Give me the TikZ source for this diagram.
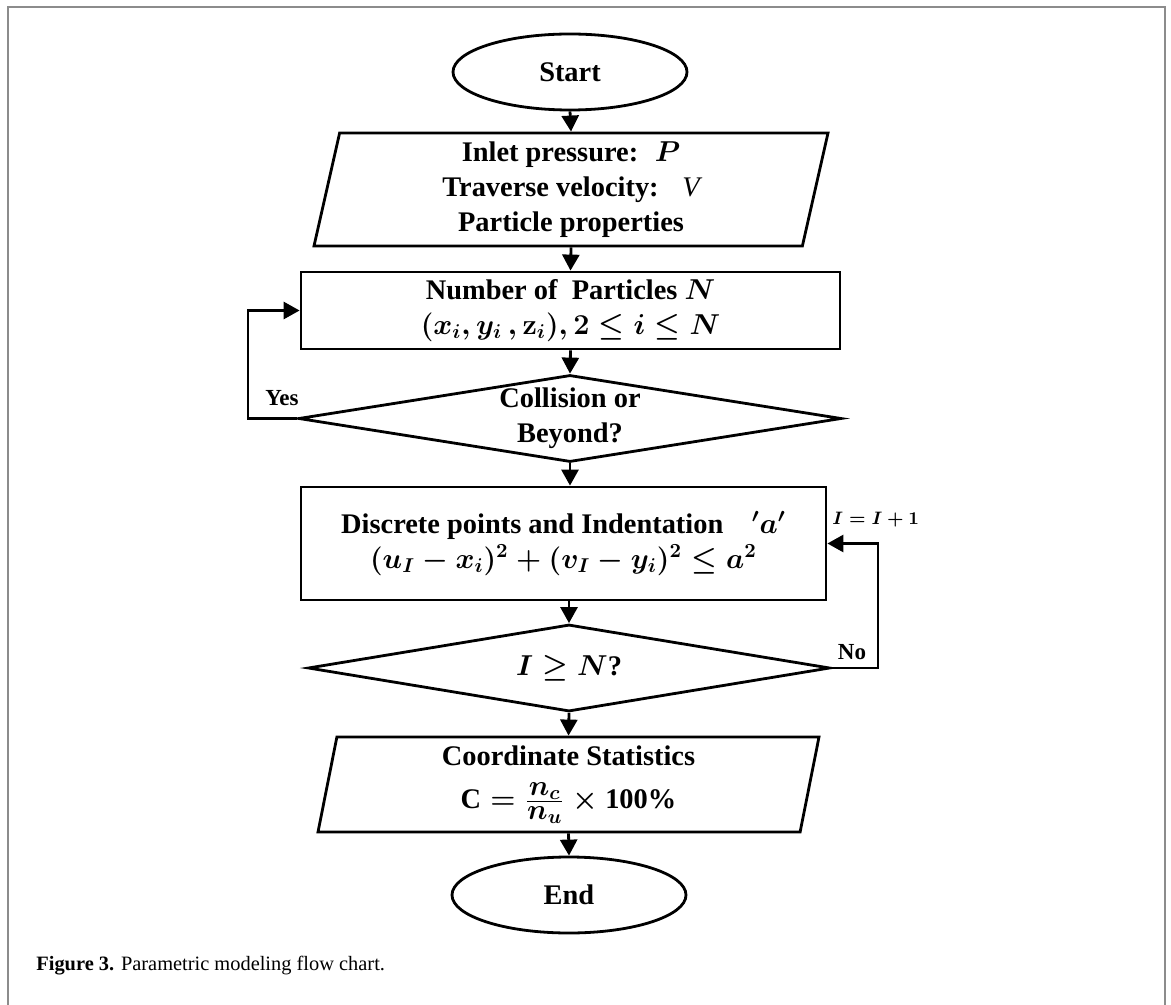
\documentclass[tikz,border=0pt]{standalone}
\usepackage[no-math]{fontspec}
\setmainfont{Liberation Serif}
\usepackage{amsmath,amssymb}
\usetikzlibrary{shapes.geometric,arrows.meta}

\begin{document}
\begin{tikzpicture}[x=0.5pt,y=-0.5pt,
		chartfont/.style={font=\fontsize{14.2}{17.5}\selectfont\bfseries\boldmath},
		terminal/.style={draw,ellipse,line width=1.4pt,minimum width=117pt,minimum height=38pt,chartfont},
		io/.style={draw,trapezium,trapezium stretches body=true,line width=1.4pt,inner sep=1pt,align=center,chartfont},
		process/.style={draw,rectangle,line width=1.4pt,inner sep=1pt,align=center,chartfont},
		decision/.style={draw,diamond,line width=1.4pt,inner sep=0pt,align=center,chartfont},
		flow/.style={line width=1.4pt,-{Triangle[length=8pt,width=8.5pt]}},
		tag/.style={font=\fontsize{11.5}{13}\selectfont\bfseries\boldmath}]
		\useasboundingbox (0,0) rectangle (1171,1005);
		\draw [black!45, line width=1pt] (8,1005) -- (8,7) -- (1165,7) -- (1165,1005);% Frame of the figure

		\node[terminal] (Start) at (570,72) {Start};
		\node[io,trapezium left angle=75.6,trapezium right angle=104.4,minimum width=257pt,minimum height=56.5pt] (Input) at (571,189.5)
			{Inlet pressure:~ $P$\\ Traverse velocity:~~ {\mdseries\itshape V}\\ Particle properties};
		\node[process,minimum width=269.5pt,minimum height=38.5pt] (Count) at (570.5,310.5)
			{Number of~ Particles $N$\\ $(x_i, y_i\,, \mathbf{z}_i), 2 \le i \le N$};
		\node[decision,minimum width=271.5pt,minimum height=43.5pt,shape aspect=6.2] (Collide) at (570,418.5)
			{\raisebox{-2pt}{Collision or}\\ \raisebox{-2pt}{Beyond?}};
		\node[process,minimum width=262.5pt,minimum height=56.5pt] (Indent) at (563.5,543.5)
			{Discrete points and Indentation\hspace{1em}${}'a'$\\ $(u_I - x_i)^2 + (v_I - y_i)^2 \le a^2$};
		\node[decision,minimum width=261pt,minimum height=43.5pt,shape aspect=6] (Check) at (569,668) {$I \geq N$?};
		\node[io,trapezium left angle=77,trapezium right angle=103,minimum width=250.5pt,minimum height=47.5pt] (Stats) at (568.5,784.5)
			{Coordinate Statistics\\[4pt] $\textbf{C} = \frac{\textstyle n_c}{\textstyle n_u} \times \textbf{100\%}$};
		\node[terminal] (End) at (569,895) {End};

		\draw [flow] (Start.south) -- (Input.north);
		\draw [flow] (Input.south) -- (Count.north);
		\draw [flow] (Count.south) -- (Collide.north);
		\draw [flow] (Collide.south) -- (Collide.south |- Indent.north);
		\draw [flow] (Check.north |- Indent.south) -- (Check.north);
		\draw [flow] (Check.south) -- (Stats.north);
		\draw [flow] (Stats.south) -- (End.north);

		\coordinate (YesTurn) at (248,418.5);% Loop back when particles overlap
		\coordinate (NoTurn)  at (878,668);
		\draw [flow] (Collide.west) -- (YesTurn) |- (Count.west);
		\draw [flow] (Check.east) -- (NoTurn) |- (Indent.east);
		\node[tag] (YesLabel) at (282,398) {Yes};
		\node[tag] (NoLabel) at (852,652) {No};
		\node[anchor=west,inner sep=0pt,font=\fontsize{9.5}{11}\selectfont\boldmath] (IncLabel) at (832,520) {$I = I + 1$};

		\node[anchor=west,inner sep=0pt,font=\fontsize{10.2}{12}\selectfont] (Caption) at (36,966)
			{\textbf{Figure 3.} Parametric modeling flow chart.};
	\end{tikzpicture}
\end{document}
